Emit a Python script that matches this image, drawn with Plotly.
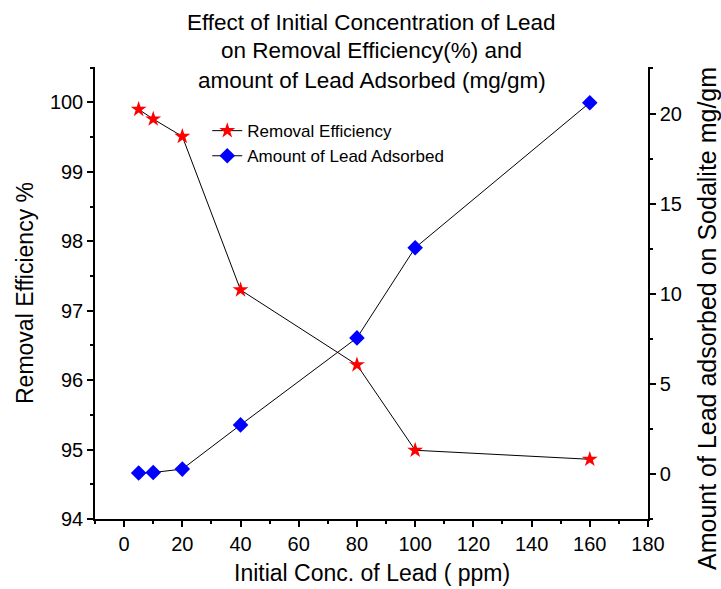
import plotly.graph_objects as go

conc = [5, 10, 20, 40, 80, 100, 160]
removal_eff = [99.90, 99.76, 99.51, 97.30, 96.22, 94.99, 94.86]
amount_ads = [0.05, 0.08, 0.27, 2.72, 7.55, 12.55, 20.6]

FONT = "Arial, Liberation Sans, sans-serif"

fig = go.Figure()
fig.add_trace(go.Scatter(
    x=conc, y=removal_eff, name="Removal Efficiency", mode="lines+markers",
    line=dict(color="black", width=1),
    marker=dict(symbol="star", size=12, color="red", line=dict(width=0)),
    yaxis="y",
))
fig.add_trace(go.Scatter(
    x=conc, y=amount_ads, name="Amount of Lead Adsorbed", mode="lines+markers",
    line=dict(color="black", width=1),
    marker=dict(symbol="diamond", size=12, color="blue", line=dict(width=0)),
    yaxis="y2",
))

axis_common = dict(
    showline=True, linecolor="black", linewidth=1.5, ticks="outside",
    ticklen=6, tickwidth=1.5, tickcolor="black", showgrid=False, zeroline=False,
    tickfont=dict(family=FONT, size=20, color="black"),
)

fig.update_layout(
    width=721, height=589,
    margin=dict(l=95, r=73, t=67, b=70),
    paper_bgcolor="white", plot_bgcolor="white",
    font=dict(family=FONT, color="black"),
    showlegend=True,
    legend=dict(x=0.203, y=0.898, xanchor="left", yanchor="top",
                font=dict(family=FONT, size=17, color="black"),
                bgcolor="rgba(0,0,0,0)", tracegroupgap=0),
    xaxis=dict(range=[-10, 180], tickmode="linear", tick0=0, dtick=20,
               minor=dict(ticks="outside", ticklen=3, tickwidth=1.5, dtick=10, tick0=0, tickcolor="black"),
               **axis_common),
    yaxis=dict(range=[94, 100.51], tickmode="linear", tick0=94, dtick=1,
               minor=dict(ticks="outside", ticklen=3, tickwidth=1.5, dtick=0.5, tick0=94, tickcolor="black"),
               **axis_common),
    yaxis2=dict(range=[-2.5, 22.58], tickmode="linear", tick0=0, dtick=5,
                overlaying="y", side="right",
                minor=dict(ticks="outside", ticklen=3, tickwidth=1.5, dtick=2.5, tick0=0, tickcolor="black"),
                **axis_common),
)

title_lines = ["Effect of Initial Concentration of Lead",
               "on Removal Efficiency(%) and",
               "amount of Lead Adsorbed (mg/gm)"]
for i, t in enumerate(title_lines):
    py = 22 + 29 * i
    fig.add_annotation(text=t, xref="paper", yref="paper", x=0.5,
                       y=(519 - py) / 452, xanchor="center", yanchor="middle",
                       showarrow=False, font=dict(family=FONT, size=22.5, color="black"))

fig.add_annotation(text="Initial Conc. of Lead ( ppm)", xref="paper", yref="paper",
                   x=0.5, y=(519 - 573) / 452, xanchor="center", yanchor="middle",
                   showarrow=False, font=dict(family=FONT, size=23, color="black"))
fig.add_annotation(text="Removal Efficiency %", xref="paper", yref="paper",
                   x=(25 - 95) / 553, y=(519 - 293) / 452, xanchor="center", yanchor="middle",
                   textangle=-90, showarrow=False, font=dict(family=FONT, size=23, color="black"))
fig.add_annotation(text="Amount of Lead adsorbed on Sodalite mg/gm", xref="paper", yref="paper",
                   x=(707 - 95) / 553, y=(519 - 319) / 452, xanchor="center", yanchor="middle",
                   textangle=-90, showarrow=False, font=dict(family=FONT, size=25, color="black"))

fig.write_html("out.html")
